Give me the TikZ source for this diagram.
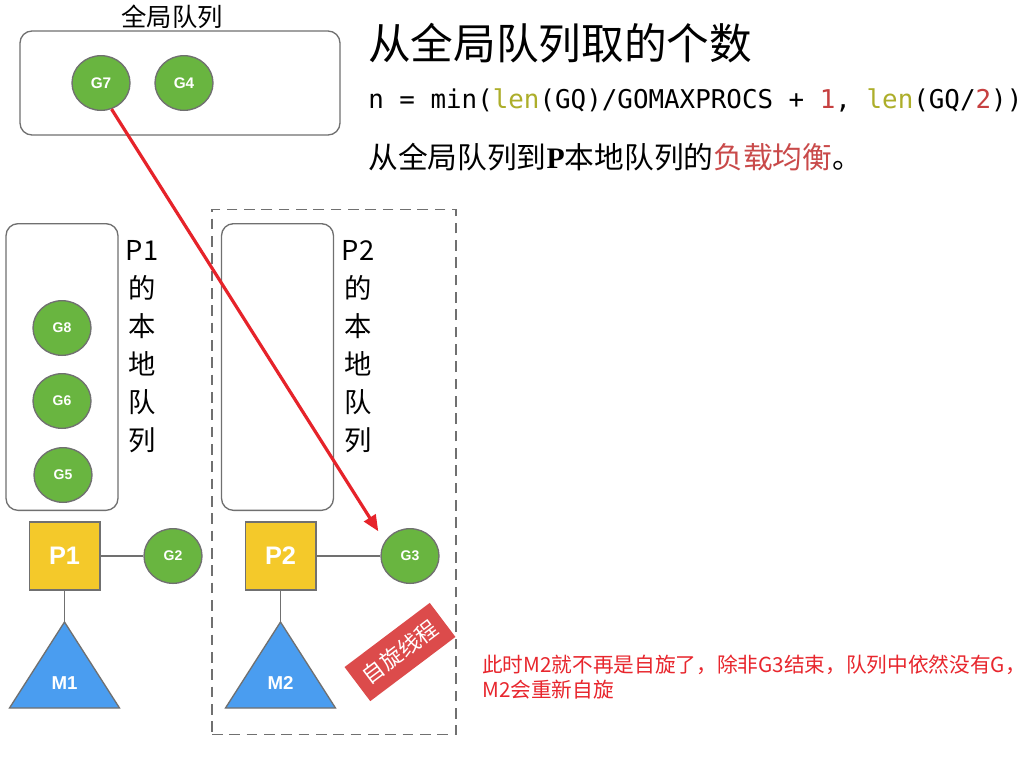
\documentclass[tikz,border=0pt]{standalone}
\usepackage{fontspec}
\setmainfont{Liberation Sans}
\newfontfamily\cjk{Noto Sans CJK SC}
\newfontfamily\codefont{DejaVu Sans Mono}
\newfontfamily\serifbf{Liberation Serif}
\usetikzlibrary{shapes.geometric,arrows.meta}
\definecolor{gGreen}{HTML}{69B540}
\definecolor{pYellow}{HTML}{F4C92A}
\definecolor{mBlue}{HTML}{4A9DF0}
\definecolor{lineGray}{HTML}{707070}
\definecolor{arrowRed}{HTML}{E6232A}
\definecolor{spinRed}{HTML}{DC4B4B}
\definecolor{noteRed}{HTML}{E8262D}
\definecolor{lenOlive}{HTML}{ADAE2A}
\definecolor{numRed}{HTML}{C64040}
\definecolor{lbRed}{HTML}{C94A4A}
\begin{document}
\begin{tikzpicture}[x=0.75pt,y=-0.75pt,
    qBox/.style={draw=lineGray,line width=1pt,rounded corners=9pt},
    gNode/.style={ellipse,draw=lineGray,line width=1pt,fill=gGreen,text=white,
        font=\bfseries\fontsize{10.5}{10.5}\selectfont,
        minimum width=43.5pt,minimum height=41pt,inner sep=0pt},
    pNode/.style={rectangle,draw=lineGray,line width=1pt,fill=pYellow,text=white,
        font=\bfseries\fontsize{19}{19}\selectfont,
        minimum width=53pt,minimum height=51pt,inner sep=0pt},
    mShape/.style={draw=lineGray,line width=1pt,fill=mBlue},
    mLabel/.style={text=white,font=\bfseries\fontsize{14}{14}\selectfont,inner sep=0pt},
    link/.style={draw=lineGray,line width=1pt},
    colText/.style={font=\cjk\fontsize{20.5}{28.5}\selectfont,align=center,inner sep=0pt},
]
\useasboundingbox[fill=white] (0,0) rectangle (1024,779);
% global queue
\node[qBox,minimum width=240pt,minimum height=78pt] (gq) at (180,83) {};
\node[font=\cjk\fontsize{19}{19}\selectfont] (gqLabel) at (172,17) {全局队列};
\node[gNode,font=\bfseries\fontsize{11.5}{11.5}\selectfont] (g7) at (101,83) {G7};
\node[gNode,font=\bfseries\fontsize{11.5}{11.5}\selectfont] (g4) at (184,83) {G4};
% text on the right
\node[anchor=west,inner sep=0pt,font=\cjk\fontsize{32}{32}\selectfont] (title) at (368,43) {从全局队列取的个数};
\node[anchor=west,inner sep=0pt,font=\codefont\fontsize{19.4}{19.4}\selectfont] (formula) at (368,100)
    {n = min(\textcolor{lenOlive}{len}(GQ)/GOMAXPROCS + \textcolor{numRed}{1}, \textcolor{lenOlive}{len}(GQ/\textcolor{numRed}{2}))};
\node[anchor=west,inner sep=0pt,font=\cjk\fontsize{22.3}{22.3}\selectfont] (balance) at (368,157)
    {从全局队列到{\serifbf\bfseries P}本地队列的\textcolor{lbRed}{负载均衡}。};
% P1 side
\node[qBox,minimum width=84pt,minimum height=215pt] (lq1) at (62,367) {};
\node[gNode] (g8) at (62,328) {G8};
\node[gNode] (g6) at (62,401) {G6};
\node[gNode] (g5) at (63,475) {G5};
\node[colText] (lq1Label) at (142,347) {P1\\的\\本\\地\\队\\列};
\node[pNode] (p1) at (64.5,556) {P1};
\node[gNode] (g2) at (173,556) {G2};
\coordinate (m1top) at (64.5,622);
\draw[mShape] (m1top) -- ++(55,86) -- ++(-110,0) -- cycle;
\node[mLabel] (m1) at (64.5,683) {M1};
\draw[link] (p1) -- (g2);
\draw[link] (p1) -- (m1top);
% P2 side
\node[draw=lineGray,line width=1pt,dashed,dash pattern=on 8pt off 5pt,
    minimum width=183pt,minimum height=394pt] (p2zone) at (334,472) {};
\node[qBox,minimum width=84pt,minimum height=215pt] (lq2) at (277.5,367) {};
\node[colText] (lq2Label) at (358,347) {P2\\的\\本\\地\\队\\列};
\node[pNode] (p2) at (280.5,556) {P2};
\node[gNode] (g3) at (410,556) {G3};
\coordinate (m2top) at (280.5,622);
\draw[mShape] (m2top) -- ++(55,86) -- ++(-110,0) -- cycle;
\node[mLabel] (m2) at (280.5,683) {M2};
\draw[link] (p2) -- (g3);
\draw[link] (p2) -- (m2top);
\node[fill=spinRed,text=white,rotate=37,minimum width=80pt,minimum height=32pt,inner sep=0pt,
    font=\cjk\fontsize{16.5}{16.5}\selectfont] (spin) at (400,652) {自旋线程};
% steal from global queue
\draw[arrowRed,line width=2.4pt,-{Triangle[length=12pt,width=10pt]},shorten >=9pt] (g7.-68) -- (g3.150);
\node[anchor=west,inner sep=0pt,align=left,text=noteRed,font=\cjk\fontsize{15.5}{18.75}\selectfont] (note) at (482,677)
    {此时M2就不再是自旋了，除非G3结束，队列中依然没有G，\\M2会重新自旋};
\end{tikzpicture}
\end{document}
